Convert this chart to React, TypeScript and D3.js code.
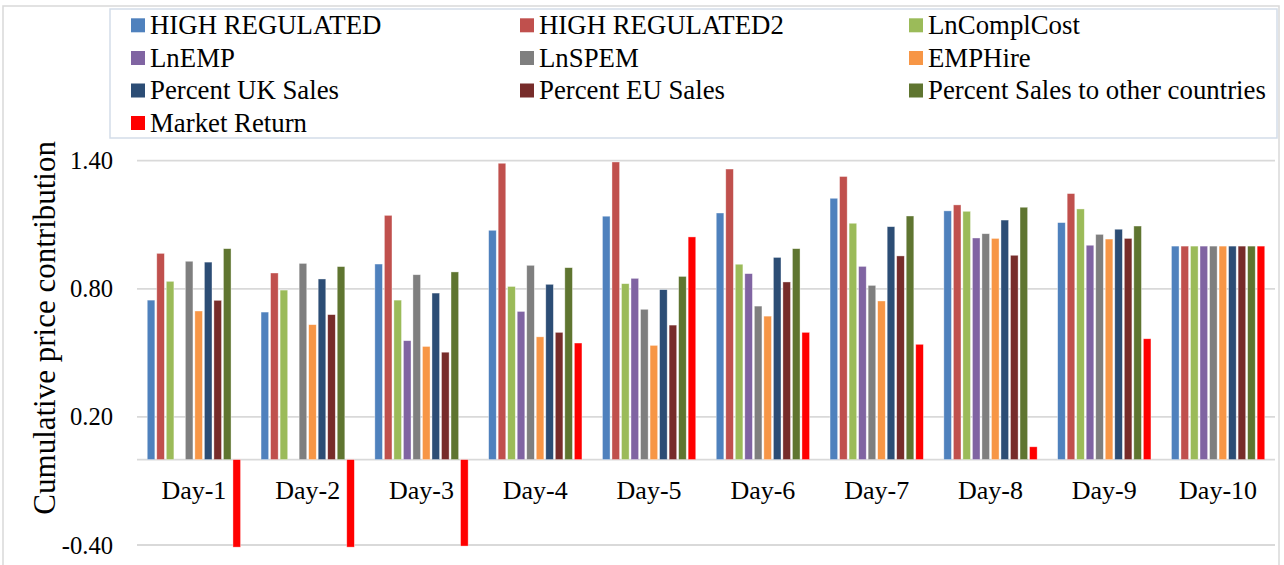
import React from "react";
import * as d3 from "d3";

const days = ["Day-1", "Day-2", "Day-3", "Day-4", "Day-5", "Day-6", "Day-7", "Day-8", "Day-9", "Day-10"];

const seriesNames = [
  "HIGH REGULATED",
  "HIGH REGULATED2",
  "LnComplCost",
  "LnEMP",
  "LnSPEM",
  "EMPHire",
  "Percent UK Sales",
  "Percent EU Sales",
  "Percent Sales to other countries",
  "Market Return"
];

const seriesColors = ["#4F81BD", "#C0504D", "#9BBB59", "#8064A2", "#7F7F7F", "#F79646", "#2C4D75", "#772C2A", "#5F7530", "#FF0000"];

// values per series, one per day (null = no bar)
const highRegulated = [0.747, 0.691, 0.916, 1.074, 1.14, 1.155, 1.224, 1.165, 1.11, 1.0];
const highRegulated2 = [0.966, 0.874, 1.144, 1.388, 1.394, 1.361, 1.326, 1.193, 1.246, 1.0];
const lnComplCost = [0.835, 0.794, 0.747, 0.811, 0.824, 0.915, 1.107, 1.163, 1.174, 1.0];
const lnEMP = [null, null, 0.557, 0.694, 0.849, 0.871, 0.905, 1.038, 1.004, 1.0];
const lnSPEM = [0.929, 0.919, 0.866, 0.91, 0.704, 0.719, 0.816, 1.058, 1.055, 1.0];
const empHire = [0.696, 0.632, 0.53, 0.575, 0.535, 0.672, 0.743, 1.036, 1.033, 1.0];
const ukSales = [0.925, 0.846, 0.78, 0.821, 0.796, 0.947, 1.091, 1.122, 1.079, 1.0];
const euSales = [0.746, 0.679, 0.503, 0.596, 0.63, 0.832, 0.954, 0.957, 1.036, 1.0];
const otherSales = [0.988, 0.904, 0.879, 0.899, 0.858, 0.988, 1.141, 1.182, 1.094, 1.0];
const marketReturn = [-0.41, -0.41, -0.405, 0.546, 1.043, 0.596, 0.54, 0.06, 0.566, 1.0];

const seriesValues = [highRegulated, highRegulated2, lnComplCost, lnEMP, lnSPEM, empHire, ukSales, euSales, otherSales, marketReturn];

const yTicks = [-0.4, 0.2, 0.8, 1.4];

const font = "'Liberation Serif', 'Times New Roman', serif";

// excel-style label, plain hyphen for negatives
const fmt = (v: number) => d3.format(".2f")(v).replace("\u2212", "-");

const App = () => {
  const width = 1284;
  const height = 565;
  const plot = { left: 137, right: 1275, top: 160.7, bottom: 545 };

  const x0 = d3
    .scaleBand<string>()
    .domain(days)
    .range([plot.left, plot.right])
    .paddingInner(0.18)
    .paddingOuter(0.09);

  const x1 = d3
    .scaleBand<string>()
    .domain(seriesNames)
    .range([0, x0.bandwidth()])
    .paddingInner(0.2)
    .paddingOuter(0);

  const y = d3.scaleLinear().domain([-0.4, 1.4]).range([plot.bottom, plot.top]);

  const legendCols = [131, 520, 909];
  const legendRows = [25.3, 58, 90.5, 123];

  return (
    <div style={{ position: "absolute", left: 0, top: 0 }}>
      <svg width={width} height={height} style={{ display: "block", background: "#fff" }}>
        <rect x={3} y={6} width={1276} height={570} fill="none" stroke="#d9d9d9" strokeWidth={1.5} />
        <rect x={110} y={9} width={1167} height={129} fill="#fff" stroke="#d3dde9" strokeWidth={1.5} />

        {seriesNames.map((name, i) => {
          const cx = legendCols[i % 3];
          const cy = legendRows[Math.floor(i / 3)];
          return (
            <g key={name}>
              <rect x={cx} y={cy - 7} width={14} height={14} fill={seriesColors[i]} />
              <text x={cx + 19} y={cy + 8.5} fontFamily={font} fontSize={26.8} fill="#000">
                {name}
              </text>
            </g>
          );
        })}

        {yTicks.map(t => (
          <g key={t}>
            <line x1={plot.left} x2={plot.right} y1={y(t)} y2={y(t)} stroke="#d9d9d9" strokeWidth={1.8} />
            <text x={113} y={y(t) + 8.5} textAnchor="end" fontFamily={font} fontSize={24.6} fill="#000">
              {fmt(t)}
            </text>
          </g>
        ))}
        <line x1={plot.left} x2={plot.right} y1={y(0)} y2={y(0)} stroke="#d9d9d9" strokeWidth={1.8} />

        {days.map((d, di) => (
          <g key={d} transform={`translate(${x0(d)},0)`}>
            {seriesNames.map((s, si) => {
              const v = seriesValues[si][di];
              if (v === null || v === undefined) return null;
              const y0 = y(0);
              const yv = y(v);
              return (
                <rect
                  key={s}
                  x={x1(s)}
                  y={Math.min(y0, yv)}
                  width={x1.bandwidth()}
                  height={Math.abs(yv - y0)}
                  fill={seriesColors[si]}
                  stroke="#ffffff"
                  strokeOpacity={0.55}
                  strokeWidth={0.7}
                />
              );
            })}
            <text
              x={x0.bandwidth() / 2}
              y={499}
              textAnchor="middle"
              fontFamily={font}
              fontSize={26}
              fill="#000"
            >
              {d}
            </text>
          </g>
        ))}

        <text
          transform={`translate(55,${(plot.top + plot.bottom) / 2 - 25}) rotate(-90)`}
          textAnchor="middle"
          fontFamily={font}
          fontSize={31}
          fill="#000"
        >
          Cumulative price contribution
        </text>
      </svg>
    </div>
  );
};

export default App;
